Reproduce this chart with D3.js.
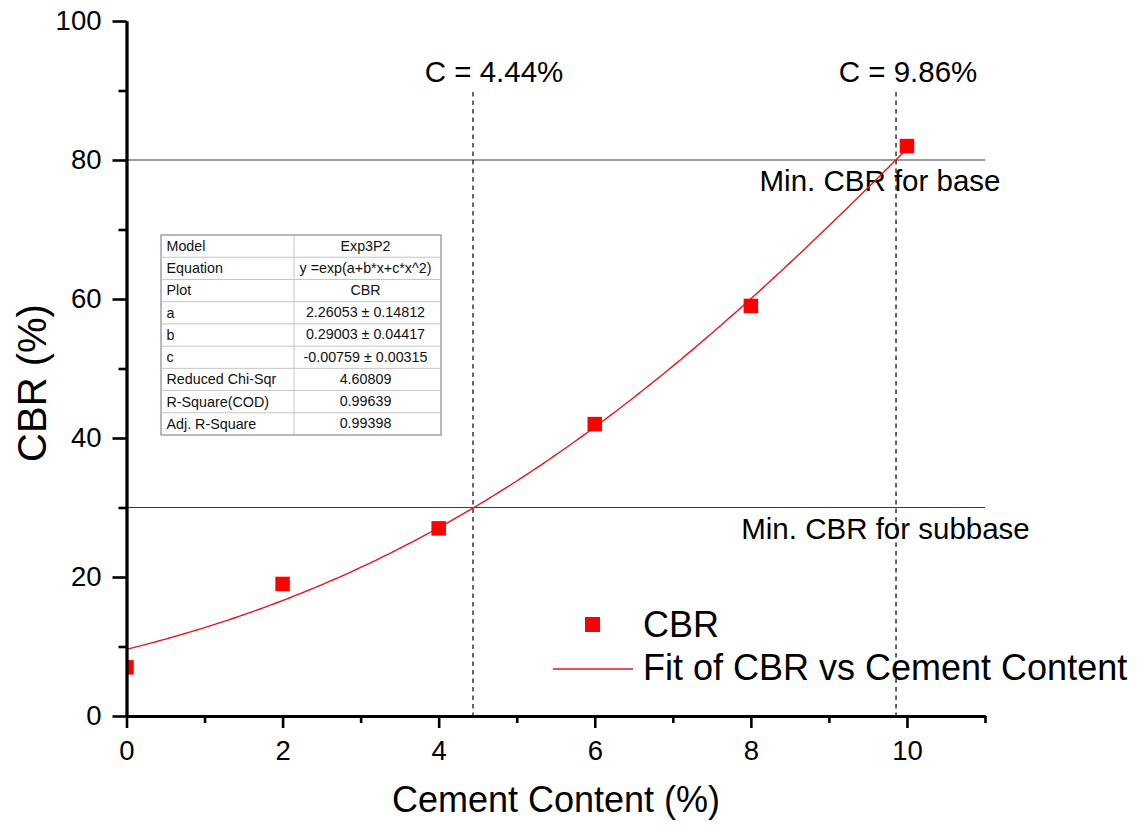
<!DOCTYPE html>
<html>
<head>
<meta charset="utf-8">
<script src="https://cdn.jsdelivr.net/npm/d3@7"></script>
<style>
  html, body { margin: 0; padding: 0; background: #fff; }
  svg { display: block; font-family: "Liberation Sans", Arial, sans-serif; }
</style>
</head>
<body>
<svg id="chart" width="1137" height="825"></svg>
<script>
// Measured CBR at each cement content
const cementContent = [0, 2, 4, 6, 8, 10];
const cbrValues = [7, 19, 27, 42, 59, 82];

// Exp3P2 fit parameters: y = exp(a + b*x + c*x^2)
const paramNames = ["a", "b", "c"];
const paramValues = [2.26053, 0.29003, -0.00759];
const paramErrors = [0.14812, 0.04417, 0.00315];

// Fit summary table
const tableLabels = ["Model", "Equation", "Plot", "a", "b", "c", "Reduced Chi-Sqr", "R-Square(COD)", "Adj. R-Square"];
const tableValues = ["Exp3P2", "y =exp(a+b*x+c*x^2)", "CBR",
  "2.26053 \u00b1 0.14812", "0.29003 \u00b1 0.04417", "-0.00759 \u00b1 0.00315",
  "4.60809", "0.99639", "0.99398"];

// Design thresholds
const cbrLimits = [80, 30];
const cbrLimitLabels = ["Min. CBR for base", "Min. CBR for subbase"];
const cementAtLimit = [9.86, 4.44];
const cementLabels = ["C = 9.86%", "C = 4.44%"];

// Axis ticks
const xMajorTicks = [0, 2, 4, 6, 8, 10];
const xMinorTicks = [1, 3, 5, 7, 9, 11];
const yMajorTicks = [0, 20, 40, 60, 80, 100];
const yMinorTicks = [10, 30, 50, 70, 90];

const svg = d3.select("#chart");
const margin = { left: 126.5, right: 152, top: 21, bottom: 109 };
const W = 1137, H = 825;

const x = d3.scaleLinear().domain([0, 11]).range([margin.left, W - margin.right]);
const y = d3.scaleLinear().domain([0, 100]).range([H - margin.bottom, margin.top]);

svg.append("defs").append("clipPath").attr("id", "plotClip")
  .append("rect")
  .attr("x", x(0)).attr("y", y(100))
  .attr("width", x(11) - x(0)).attr("height", y(0) - y(100));

// Threshold lines
const limits = svg.append("g");
limits.selectAll("line").data(cbrLimits).join("line")
  .attr("x1", x(0)).attr("x2", x(11))
  .attr("y1", d => y(d)).attr("y2", d => y(d))
  .attr("stroke", "#3a3a3a").attr("stroke-width", 1.2);

limits.selectAll("text").data(cbrLimits).join("text")
  .attr("x", (d, i) => i === 0 ? 880 : 885.5)
  .attr("y", d => y(d) + 31)
  .attr("text-anchor", "middle")
  .attr("font-size", 29.5)
  .text((d, i) => cbrLimitLabels[i]);

// Dashed verticals at required cement content
const cuts = svg.append("g");
cuts.selectAll("line").data(cementAtLimit).join("line")
  .attr("x1", d => x(d)).attr("x2", d => x(d))
  .attr("y1", 92).attr("y2", y(0))
  .attr("stroke", "#000").attr("stroke-width", 1.2)
  .attr("stroke-dasharray", "4.5,4");

cuts.selectAll("text").data(cementAtLimit).join("text")
  .attr("x", (d, i) => i === 0 ? 908 : 494)
  .attr("y", 82)
  .attr("text-anchor", "middle")
  .attr("font-size", 29.5)
  .text((d, i) => cementLabels[i]);

// Fit curve from the tabulated parameters
const fitFn = xv => Math.exp(paramValues[0] + paramValues[1] * xv + paramValues[2] * xv * xv);
const fitX = d3.range(0, 10.0001, 0.05);
svg.append("path")
  .datum(fitX)
  .attr("fill", "none")
  .attr("stroke", "#e8151b")
  .attr("stroke-width", 1.4)
  .attr("d", d3.line().x(d => x(d)).y(d => y(fitFn(d))));

// Data markers
const ms = 14.5;
svg.append("g").attr("clip-path", "url(#plotClip)")
  .selectAll("rect").data(cementContent).join("rect")
  .attr("x", d => x(d) - ms / 2)
  .attr("y", (d, i) => y(cbrValues[i]) - ms / 2)
  .attr("width", ms).attr("height", ms)
  .attr("fill", "#ff0000");

// Axes
function styleAxis(g) {
  g.select(".domain").attr("stroke", "#000").attr("stroke-width", 2.8);
  g.selectAll(".tick line").attr("stroke", "#000").attr("stroke-width", 2.6);
  g.selectAll(".tick text").attr("font-size", 27.5).attr("fill", "#000")
    .attr("font-family", "'Liberation Sans', Arial, sans-serif");
}

svg.append("g").attr("transform", `translate(0,${y(0)})`)
  .call(d3.axisBottom(x).tickValues(xMinorTicks).tickSize(7).tickFormat("").tickSizeOuter(0))
  .call(styleAxis);
svg.append("g").attr("transform", `translate(0,${y(0)})`)
  .call(d3.axisBottom(x).tickValues(xMajorTicks).tickSize(12).tickPadding(12).tickSizeOuter(0))
  .call(styleAxis);

svg.append("g").attr("transform", `translate(${x(0)},0)`)
  .call(d3.axisLeft(y).tickValues(yMinorTicks).tickSize(8).tickFormat("").tickSizeOuter(0))
  .call(styleAxis);
svg.append("g").attr("transform", `translate(${x(0)},0)`)
  .call(d3.axisLeft(y).tickValues(yMajorTicks).tickSize(14).tickPadding(11).tickSizeOuter(0))
  .call(styleAxis);

// Axis titles
svg.append("text")
  .attr("x", 556).attr("y", 812)
  .attr("text-anchor", "middle")
  .attr("font-size", 36)
  .text("Cement Content (%)");

svg.append("text")
  .attr("transform", "translate(46,383) rotate(-90)")
  .attr("text-anchor", "middle")
  .attr("font-size", 40)
  .text("CBR (%)");

// Fit summary table
const tbl = svg.append("g");
const tLeft = 161, tTop = 235, tRight = 441, tDiv = 294, rowH = 200 / 9;
tbl.append("rect")
  .attr("x", tLeft).attr("y", tTop)
  .attr("width", tRight - tLeft).attr("height", rowH * tableLabels.length)
  .attr("fill", "#fff").attr("stroke", "#8a8a8a").attr("stroke-width", 1.2);
tbl.selectAll("line.row").data(d3.range(1, tableLabels.length)).join("line")
  .attr("class", "row")
  .attr("x1", tLeft).attr("x2", tRight)
  .attr("y1", i => tTop + i * rowH).attr("y2", i => tTop + i * rowH)
  .attr("stroke", "#c4c4c4").attr("stroke-width", 1);
tbl.append("line")
  .attr("x1", tDiv).attr("x2", tDiv)
  .attr("y1", tTop).attr("y2", tTop + rowH * tableLabels.length)
  .attr("stroke", "#c4c4c4").attr("stroke-width", 1);
tbl.selectAll("text.lab").data(tableLabels).join("text")
  .attr("class", "lab")
  .attr("x", tLeft + 5.5)
  .attr("y", (d, i) => tTop + i * rowH + 16)
  .attr("font-size", 14.3).attr("fill", "#111")
  .text(d => d);
tbl.selectAll("text.val").data(tableValues).join("text")
  .attr("class", "val")
  .attr("x", (tDiv + tRight) / 2 - 2)
  .attr("y", (d, i) => tTop + i * rowH + 15.5)
  .attr("text-anchor", "middle")
  .attr("font-size", 14.3).attr("fill", "#111")
  .text(d => d);

// Legend
const leg = svg.append("g");
leg.append("rect")
  .attr("x", 592.5 - 7.5).attr("y", 624.5 - 7.5)
  .attr("width", 15).attr("height", 15)
  .attr("fill", "#ff0000");
leg.append("text")
  .attr("x", 643).attr("y", 637)
  .attr("font-size", 36)
  .text("CBR");
leg.append("line")
  .attr("x1", 553).attr("x2", 633)
  .attr("y1", 669).attr("y2", 669)
  .attr("stroke", "#e8151b").attr("stroke-width", 1.4);
leg.append("text")
  .attr("x", 643).attr("y", 680)
  .attr("font-size", 36)
  .text("Fit of CBR vs Cement Content");
</script>
</body>
</html>
